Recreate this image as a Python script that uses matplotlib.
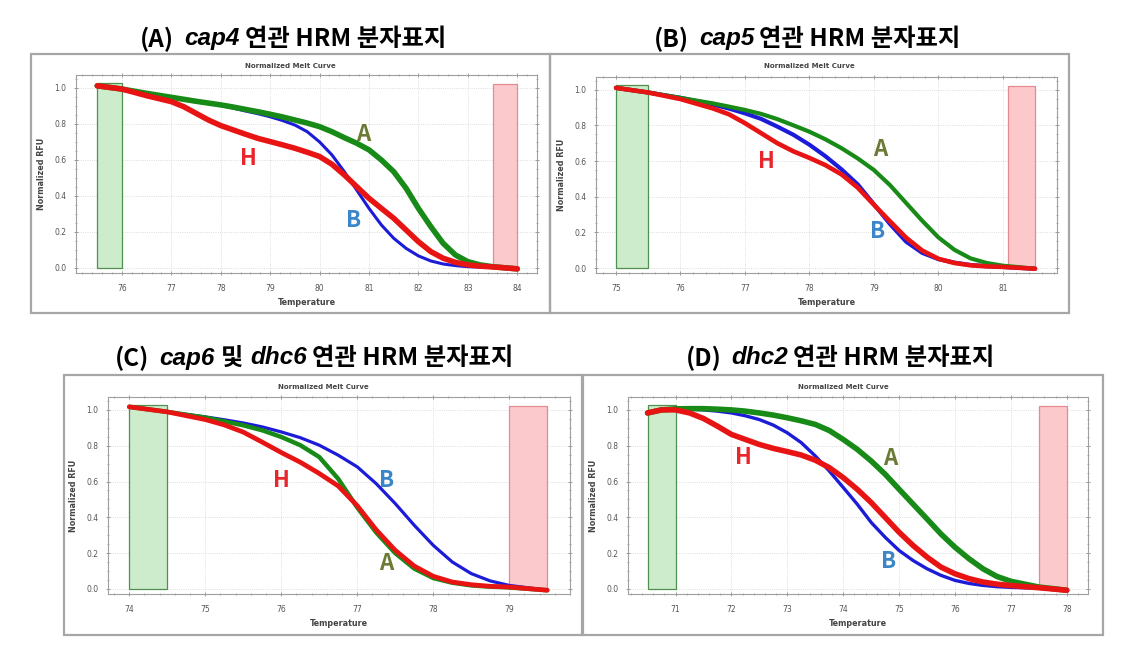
import matplotlib
matplotlib.use("Agg")
import matplotlib.pyplot as plt
from matplotlib.patches import Rectangle
from matplotlib.ticker import MultipleLocator

# ---------------- data ----------------
a_temp = [75.5, 76, 76.5, 77, 77.25, 77.5, 77.75, 78, 78.25, 78.5, 78.75, 79, 79.25, 79.5, 79.75,
          80, 80.25, 80.5, 80.75, 81, 81.25, 81.5, 81.75, 82, 82.25, 82.5, 82.75, 83, 83.25,
          83.5, 84]
a_A = [1.012, 0.994, 0.97, 0.948, 0.937, 0.926, 0.916, 0.906, 0.894, 0.881, 0.868, 0.854, 0.839,
       0.822, 0.805, 0.785, 0.757, 0.724, 0.693, 0.656, 0.60, 0.535, 0.443, 0.331, 0.23, 0.137,
       0.072, 0.035, 0.017, 0.007, -0.005]
a_B = [1.012, 0.994, 0.97, 0.948, 0.937, 0.926, 0.914, 0.902, 0.888, 0.872, 0.857, 0.84, 0.819,
       0.794, 0.757, 0.70, 0.628, 0.535, 0.433, 0.331, 0.239, 0.165, 0.109, 0.067, 0.039, 0.022,
       0.013, 0.007, 0.005, 0.003, -0.005]
a_H = [1.012, 0.994, 0.957, 0.924, 0.896, 0.859, 0.822, 0.791, 0.767, 0.743, 0.72, 0.702, 0.684,
       0.665, 0.643, 0.619, 0.576, 0.517, 0.452, 0.387, 0.331, 0.276, 0.211, 0.146, 0.091, 0.054,
       0.031, 0.017, 0.01, 0.006, -0.005]

b_temp = [75, 75.5, 76, 76.5, 76.75, 77, 77.25, 77.5, 77.75, 78, 78.25, 78.5, 78.75, 79, 79.25,
          79.5, 79.75, 80, 80.25, 80.5, 80.75, 81, 81.5]
b_A = [1.011, 0.985, 0.955, 0.924, 0.906, 0.887, 0.865, 0.836, 0.801, 0.765, 0.722, 0.672, 0.615,
       0.55, 0.465, 0.365, 0.265, 0.172, 0.102, 0.054, 0.028, 0.013, -0.004]
b_B = [1.011, 0.985, 0.955, 0.918, 0.895, 0.868, 0.837, 0.794, 0.748, 0.692, 0.627, 0.553, 0.469,
       0.358, 0.247, 0.148, 0.085, 0.05, 0.03, 0.017, 0.01, 0.006, -0.004]
b_H = [1.011, 0.985, 0.948, 0.896, 0.863, 0.813, 0.757, 0.701, 0.655, 0.618, 0.577, 0.525, 0.451,
       0.355, 0.262, 0.17, 0.098, 0.052, 0.028, 0.015, 0.009, 0.006, -0.004]

c_temp = [74, 74.5, 75, 75.25, 75.5, 75.75, 76, 76.25, 76.5, 76.75, 77, 77.25, 77.5, 77.75, 78,
          78.25, 78.5, 78.75, 79, 79.5]
c_A = [1.017, 0.989, 0.957, 0.936, 0.914, 0.886, 0.849, 0.803, 0.737, 0.615, 0.455, 0.315, 0.2,
       0.114, 0.061, 0.035, 0.02, 0.013, 0.009, -0.007]
c_B = [1.017, 0.989, 0.961, 0.945, 0.927, 0.905, 0.877, 0.845, 0.803, 0.747, 0.682, 0.588, 0.477,
       0.356, 0.244, 0.151, 0.086, 0.045, 0.02, -0.007]
c_H = [1.017, 0.989, 0.946, 0.916, 0.876, 0.82, 0.762, 0.708, 0.645, 0.575, 0.465, 0.33, 0.216,
       0.128, 0.071, 0.039, 0.024, 0.015, 0.011, -0.007]

d_temp = [70.5, 70.75, 71, 71.25, 71.5, 71.75, 72, 72.25, 72.5, 72.75, 73, 73.25, 73.5, 73.75,
          74, 74.25, 74.5, 74.75, 75, 75.25, 75.5, 75.75, 76, 76.25, 76.5, 76.75, 77, 77.5, 78]
d_A = [0.983, 1.0, 1.006, 1.007, 1.007, 1.004, 1.0, 0.993, 0.983, 0.971, 0.956, 0.939, 0.919,
       0.885, 0.835, 0.78, 0.715, 0.641, 0.557, 0.474, 0.391, 0.307, 0.233, 0.169, 0.113, 0.07,
       0.043, 0.011, -0.007]
d_B = [0.983, 1.0, 1.006, 1.004, 1.0, 0.993, 0.983, 0.967, 0.946, 0.915, 0.872, 0.817, 0.743,
       0.659, 0.567, 0.474, 0.372, 0.289, 0.215, 0.159, 0.113, 0.076, 0.048, 0.031, 0.02, 0.013,
       0.009, 0.004, -0.007]
d_H = [0.983, 1.0, 1.0, 0.983, 0.952, 0.909, 0.863, 0.835, 0.807, 0.785, 0.767, 0.748, 0.719,
       0.678, 0.622, 0.557, 0.483, 0.40, 0.317, 0.243, 0.178, 0.122, 0.085, 0.058, 0.039, 0.027,
       0.019, 0.007, -0.007]

# genotype letter positions (temperature, RFU)
a_labels = {"H": (78.56, 0.606), "A": (80.88, 0.743), "B": (80.69, 0.263)}
b_labels = {"H": (77.33, 0.599), "A": (79.1, 0.664), "B": (79.05, 0.206)}
c_labels = {"H": (76.0, 0.603), "B": (77.38, 0.607), "A": (77.38, 0.142)}
d_labels = {"H": (72.21, 0.733), "A": (74.84, 0.73), "B": (74.81, 0.156)}

# ---------------- style ----------------
W, H = 1123, 645
fig = plt.figure(figsize=(W / 100, H / 100), dpi=100)
fig.patch.set_facecolor("white")

COL_A, COL_B, COL_H = "#178a17", "#1c1cd8", "#e81414"
LAB_A, LAB_B, LAB_H = "#6b7a34", "#3a86c8", "#e8262c"
KR = ["Noto Sans CJK KR", "DejaVu Sans"]


def fax(l, t, r, b):
    return [l / W, 1 - b / H, (r - l) / W, (b - t) / H]


def box(l, t, r, b):
    fig.patches.append(Rectangle((l / W, 1 - b / H), (r - l) / W, (b - t) / H,
                                 transform=fig.transFigure, fill=False,
                                 edgecolor="#a6a6a6", lw=1.6, zorder=0))


def panel(rect, boxrect, temp, yA, yB, yH, labels, xlim, green, red, widths):
    l, t, r, b = boxrect
    box(l, t, r, b)
    ax = fig.add_axes(fax(*rect))
    ax.set_xlim(*xlim)
    ax.set_ylim(-0.028, 1.072)
    ax.axvspan(green[0], green[1], ymin=(0.0 + 0.028) / 1.1, ymax=(1.025 + 0.028) / 1.1,
               facecolor="#cdeccb", edgecolor="#4f8f4f", lw=0.9, zorder=1)
    ax.axvspan(red[0], red[1], ymin=(0.0 + 0.028) / 1.1, ymax=(1.02 + 0.028) / 1.1,
               facecolor="#fbc9cb", edgecolor="#e58a92", lw=0.9, zorder=1)
    kw = dict(solid_joinstyle="round", solid_capstyle="round")
    ax.plot(temp, yB, color=COL_B, lw=widths[1], zorder=3, **kw)
    ax.plot(temp, yA, color=COL_A, lw=widths[0], zorder=4, **kw)
    ax.plot(temp, yH, color=COL_H, lw=widths[2], zorder=5, **kw)
    cols = {"A": LAB_A, "B": LAB_B, "H": LAB_H}
    for k, (x, y) in labels.items():
        ax.text(x, y, k, color=cols[k], fontsize=16, family=KR, weight="bold",
                ha="center", va="center", zorder=6)
    ax.xaxis.set_major_locator(MultipleLocator(1))
    ax.xaxis.set_minor_locator(MultipleLocator(0.2))
    ax.yaxis.set_minor_locator(MultipleLocator(0.05))
    ax.set_yticks([0, 0.2, 0.4, 0.6, 0.8, 1.0])
    ax.set_yticklabels(["0.0", "0.2", "0.4", "0.6", "0.8", "1.0"])
    ax.tick_params(which="both", direction="inout", top=True, right=True,
                   color="#8a8a8a", labelsize=5.5, labelcolor="#555555")
    ax.tick_params(which="major", length=3.5, width=0.6)
    ax.tick_params(which="minor", length=2, width=0.5)
    ax.tick_params(axis="x", pad=6)
    ax.tick_params(axis="y", pad=5)
    for s in ax.spines.values():
        s.set_color("#a0a0a0")
        s.set_linewidth(0.8)
    ax.grid(True, which="major", color="#d4d4d4", linestyle=":", lw=0.6)
    ax.set_axisbelow(True)
    ax.set_xlabel("Temperature", fontsize=5.8, weight="bold", color="#444444", labelpad=4)
    ax.set_ylabel("Normalized RFU", fontsize=5.8, weight="bold", color="#444444", labelpad=6)
    fig.text(((l + r) / 2) / W, 1 - (t + 12) / H, "Normalized Melt Curve", fontsize=5,
             weight="bold", color="#444444", ha="center", va="center")
    return ax


panel((76, 75, 537, 273), (31, 54, 550, 313), a_temp, a_A, a_B, a_H, a_labels,
      (75.07, 84.4), (75.5, 76.0), (83.5, 84.0), (4.0, 2.2, 4.0))
panel((596, 77, 1057, 273), (550, 54, 1069, 313), b_temp, b_A, b_B, b_H, b_labels,
      (74.69, 81.84), (75.0, 75.5), (81.08, 81.5), (3.0, 3.0, 3.3))
panel((108, 397, 570, 594), (64, 375, 582, 635), c_temp, c_A, c_B, c_H, c_labels,
      (73.72, 79.8), (74.0, 74.5), (79.0, 79.5), (3.2, 2.3, 3.4))
panel((628, 397, 1088, 594), (583, 375, 1103, 635), d_temp, d_A, d_B, d_H, d_labels,
      (70.15, 78.38), (70.5, 71.0), (77.5, 78.0), (4.0, 2.4, 4.0))

# ---------------- titles with mixed italic ----------------
renderer = fig.canvas.get_renderer()


def rich_title(cx, cy, parts, size=17.5):
    objs = []
    for s, ital, gap in parts:
        if ital:
            t = fig.text(0, 1 - cy / H, s, fontsize=size, family=["Liberation Sans"],
                         style="italic", weight="bold", va="center", ha="left")
        else:
            t = fig.text(0, 1 - cy / H, s, fontsize=size, family=KR, weight="bold",
                         va="center", ha="left")
        w = t.get_window_extent(renderer).width
        objs.append((t, w, gap))
    total = sum(w + g for _, w, g in objs) - objs[-1][2]
    x = cx - total / 2
    for t, w, g in objs:
        t.set_x(x / W)
        x += w + g


rich_title(293, 39, [("(A)", False, 10), ("cap4", True, 5), ("연관 HRM 분자표지", False, 0)])
rich_title(807, 39, [("(B)", False, 10), ("cap5", True, 5), ("연관 HRM 분자표지", False, 0)])
rich_title(314, 358, [("(C)", False, 10), ("cap6", True, 7), ("및", False, 7),
                      ("dhc6", True, 5), ("연관 HRM 분자표지", False, 0)])
rich_title(840, 358, [("(D)", False, 10), ("dhc2", True, 5), ("연관 HRM 분자표지", False, 0)])

fig.savefig("out.png", dpi=100, facecolor="white")
